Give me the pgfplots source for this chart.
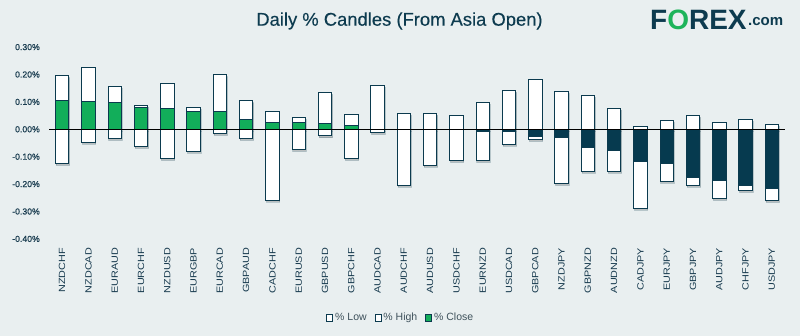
\documentclass[border=0pt]{standalone}
\usepackage{fontspec}
\setmainfont{Liberation Sans}
\newfontfamily\medium[FakeBold=0.45]{Liberation Sans}
\newfontfamily\semi[FakeBold=0.3]{Liberation Sans}
\usepackage{graphicx}
\usepackage{pgfplots}
\usepackage{pgfplotstable}
\pgfplotsset{compat=1.18}
\usetikzlibrary{shadows}
\definecolor{bgc}{HTML}{E9EFF0}
\definecolor{edge}{HTML}{0B3A4E}
\definecolor{upc}{HTML}{12AE5A}
\definecolor{dnc}{HTML}{063A4F}
\definecolor{titc}{HTML}{0D3B4F}
\definecolor{tickc}{HTML}{173A4E}
\definecolor{legc}{HTML}{3E515B}
\definecolor{logog}{HTML}{1DB45A}
\newcommand\sx[1]{\scalebox{1.2}[1]{#1}}
\pgfplotsset{
  legbox/.style={legend image code/.code={\draw[draw=edge,line width=0.8pt,fill=#1] (0pt,-3.5pt) rectangle (6pt,3.5pt);}},
  candle/.style={ybar, bar width=13.4pt, bar shift=0pt, draw=edge, line width=0.9pt, forget plot},
}
\pgfplotstableread{
x high low cp cn
0 0.196 -0.124 0.106 nan
1 0.226 -0.047 0.102 nan
2 0.157 -0.033 0.099 nan
3 0.088 -0.062 0.081 nan
4 0.167 -0.106 0.077 nan
5 0.080 -0.080 0.066 nan
6 0.199 -0.015 0.064 nan
7 0.104 -0.033 0.037 nan
8 0.066 -0.258 0.026 nan
9 0.044 -0.073 0.026 nan
10 0.135 -0.024 0.022 nan
11 0.055 -0.106 0.015 nan
12 0.161 -0.011 nan nan
13 0.058 -0.204 nan nan
14 0.058 -0.131 nan nan
15 0.051 -0.113 nan nan
16 0.099 -0.113 nan -0.007
17 0.142 -0.054 nan -0.007
18 0.182 -0.037 nan -0.027
19 0.137 -0.197 nan -0.031
20 0.124 -0.153 nan -0.065
21 0.077 -0.153 nan -0.079
22 0.011 -0.288 nan -0.116
23 0.033 -0.189 nan -0.125
24 0.051 -0.204 nan -0.177
25 0.026 -0.252 nan -0.188
26 0.036 -0.223 nan -0.206
27 0.018 -0.259 nan -0.217
}\candles
\begin{document}
\begin{tikzpicture}
\fill[bgc] (0pt,0pt) rectangle (800pt,336pt);
\node[anchor=base, text=titc, font=\semi\fontsize{18.4}{20}\selectfont] at (399.5pt,310.3pt) {Daily \% Candles (From Asia Open)};
\node[anchor=base west, inner sep=0pt, text=titc, font=\bfseries\fontsize{28}{28}\selectfont] at (650pt,306.7pt) {F{\color{logog}O}REX\hspace{1.5pt}\raisebox{4pt}{\fontsize{15}{15}\selectfont .com}};
\begin{axis}[
  at={(49pt,97.1pt)}, anchor=south west,
  scale only axis, width=736pt, height=191.8pt,
  xmin=-0.5, xmax=27.5, ymin=-0.4, ymax=0.3,
  axis line style={draw=none}, major tick length=0pt,
  xtick={0,...,27},
  xticklabels={\sx{NZDCHF},\sx{NZDCAD},\sx{EURAUD},\sx{EURCHF},\sx{NZDUSD},\sx{EURGBP},\sx{EURCAD},\sx{GBPAUD},\sx{CADCHF},\sx{EURUSD},\sx{GBPUSD},\sx{GBPCHF},\sx{AUDCAD},\sx{AUDCHF},\sx{AUDUSD},\sx{USDCHF},\sx{EURNZD},\sx{USDCAD},\sx{GBPCAD},\sx{NZDJPY},\sx{GBPNZD},\sx{AUDNZD},\sx{CADJPY},\sx{EURJPY},\sx{GBPJPY},\sx{AUDJPY},\sx{CHFJPY},\sx{USDJPY}},
  xticklabel style={rotate=90, anchor=east, inner sep=0pt, font=\fontsize{9}{10}\selectfont, text=tickc},
  xticklabel shift=9pt,
  ytick={-0.4,-0.3,-0.2,-0.1,0,0.1,0.2,0.3},
  yticklabels={-0.40\%,-0.30\%,-0.20\%,-0.10\%,0.00\%,0.10\%,0.20\%,0.30\%},
  yticklabel style={anchor=east, inner sep=0pt, font=\medium\fontsize{8.7}{10}\selectfont, text=tickc},
  yticklabel shift=9pt,
  legend style={at={(0.478,-0.412)}, anchor=center, draw=none, fill=none,
    legend columns=-1, font=\fontsize{10.5}{12}\selectfont, text=legc,
    /tikz/every even column/.append style={column sep=6pt}},
]
\addplot[candle, fill=white, drop shadow={shadow xshift=0.8pt, shadow yshift=-2pt, opacity=0.2, fill=black}] table[x=x, y=high] {\candles};
\addplot[candle, fill=white, drop shadow={shadow xshift=0.8pt, shadow yshift=-2pt, opacity=0.2, fill=black}] table[x=x, y=low] {\candles};
\addplot[candle, fill=upc] table[x=x, y=cp] {\candles};
\addplot[candle, fill=dnc] table[x=x, y=cn] {\candles};
\addplot[black, line width=0.9pt, forget plot] coordinates {(-0.5,0) (27.5,0)};
\addlegendimage{legbox=white}
\addlegendentry{\% Low}
\addlegendimage{legbox=white}
\addlegendentry{\% High}
\addlegendimage{legbox=upc}
\addlegendentry{\% Close}
\end{axis}
\end{tikzpicture}
\end{document}
